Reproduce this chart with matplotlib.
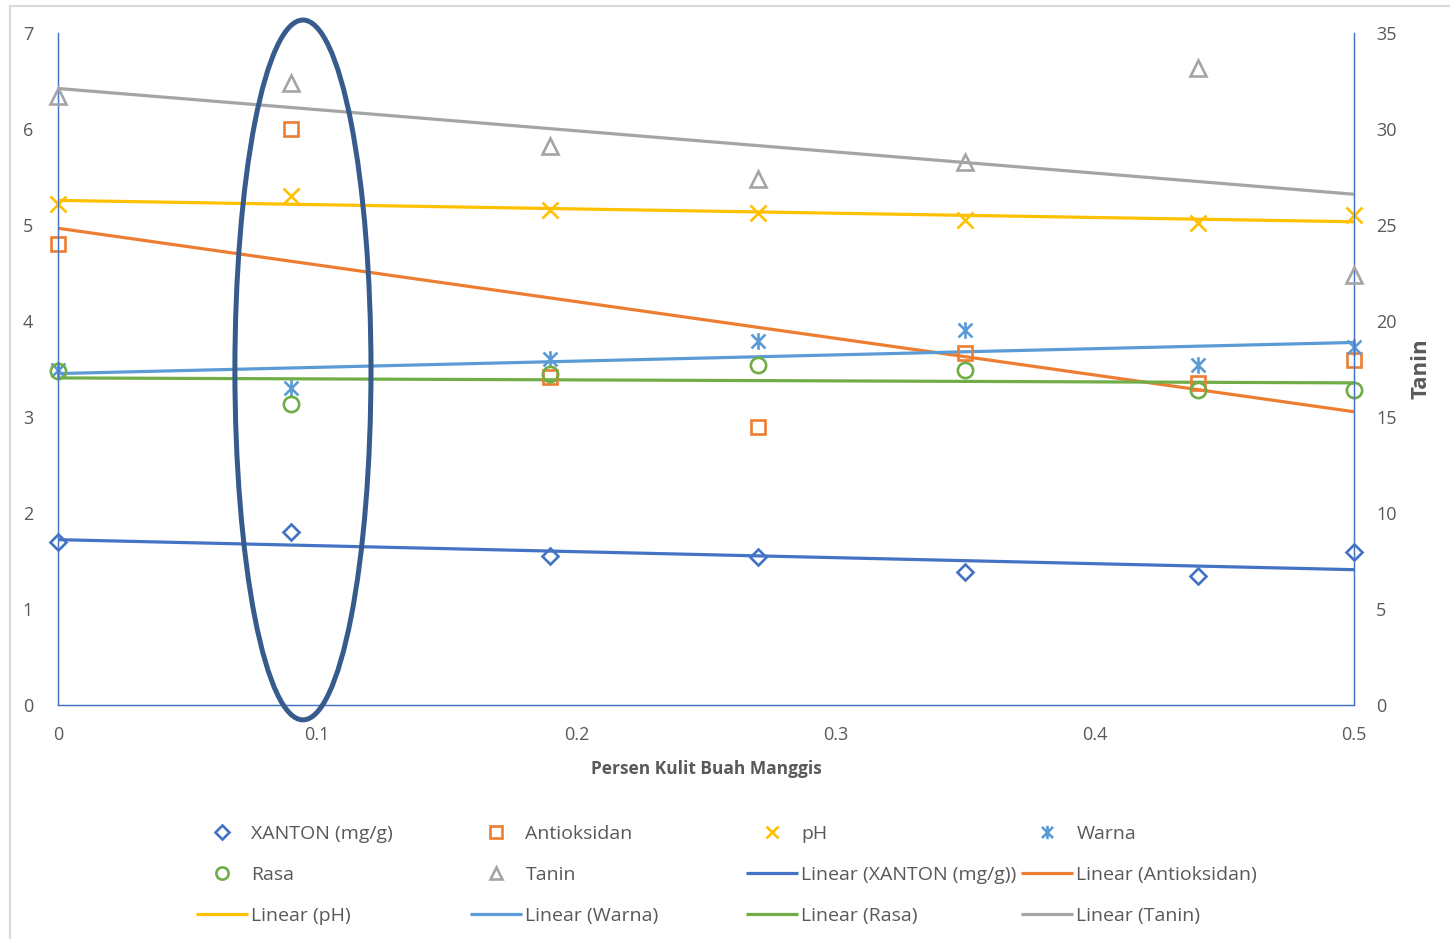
import numpy as np
import matplotlib
matplotlib.use("Agg")
import matplotlib.pyplot as plt
from matplotlib.patches import Ellipse, Rectangle
from matplotlib.path import Path

plt.rcParams['font.family'] = ['Open Sans', 'DejaVu Sans']

# ---- data ----
persen = [0, 0.09, 0.19, 0.27, 0.35, 0.44, 0.5]
xanton = [1.70, 1.80, 1.55, 1.54, 1.385, 1.34, 1.59]
antioksidan = [4.80, 6.00, 3.42, 2.90, 3.67, 3.35, 3.59]
ph = [5.22, 5.30, 5.16, 5.125, 5.05, 5.02, 5.10]
warna = [3.49, 3.30, 3.60, 3.79, 3.91, 3.54, 3.73]
rasa = [3.48, 3.14, 3.45, 3.54, 3.49, 3.28, 3.28]
tanin = [31.7, 32.4, 29.1, 27.4, 28.3, 33.2, 22.4]

left_ticks = [0, 1, 2, 3, 4, 5, 6, 7]
right_ticks = [0, 5, 10, 15, 20, 25, 30, 35]
x_ticks = [0, 0.1, 0.2, 0.3, 0.4, 0.5]
x_ticklabels = ['0', '0.1', '0.2', '0.3', '0.4', '0.5']

C_XAN = '#4472C4'
C_ANT = '#ED7D31'
C_PH = '#FFC000'
C_WAR = '#5B9BD5'
C_RAS = '#70AD47'
C_TAN = '#A5A5A5'
TXT = '#595959'
AXC = '#4472C4'

# Excel-like star marker (x with vertical bar)
star = Path([(-0.5, -0.5), (0.5, 0.5), (-0.5, 0.5), (0.5, -0.5), (0, -0.6), (0, 0.6)],
            [Path.MOVETO, Path.LINETO, Path.MOVETO, Path.LINETO, Path.MOVETO, Path.LINETO])

W, H = 1450, 939
fig = plt.figure(figsize=(W / 100, H / 100), dpi=100)
fig.patches.append(Rectangle((10 / W, -0.1), 1.0, 1.1 - 6 / H, transform=fig.transFigure,
                             fill=False, edgecolor='#D9D9D9', linewidth=1.5))

ax = fig.add_axes([58 / W, 1 - 705 / H, (1354 - 58) / W, (705 - 33) / H])
ax2 = ax.twinx()

x = np.array(persen)
xl = np.array([0, 0.5])
mew = 1.9

series = [
    ('XANTON (mg/g)', xanton, C_XAN, 'D', 8.5, ax),
    ('Antioksidan', antioksidan, C_ANT, 's', 10.5, ax),
    ('pH', ph, C_PH, 'x', 11, ax),
    ('Warna', warna, C_WAR, star, 12, ax),
    ('Rasa', rasa, C_RAS, 'o', 11, ax),
    ('Tanin', tanin, C_TAN, '^', 11, ax2),
]

marker_handles = []
line_handles = []
for name, vals, col, mk, size, a in series:
    y = np.array(vals)
    h, = a.plot(x, y, linestyle='none', marker=mk, markersize=size,
                markerfacecolor='none', markeredgecolor=col, markeredgewidth=mew,
                label=name, zorder=4, clip_on=False)
    marker_handles.append(h)
for name, vals, col, mk, size, a in series:
    y = np.array(vals)
    k, b = np.polyfit(x, y, 1)
    l, = a.plot(xl, k * xl + b, color=col, linewidth=2.3, label=f'Linear ({name})',
                zorder=3, solid_capstyle='butt')
    line_handles.append(l)

ax.set_xlim(0, 0.5)
ax.set_ylim(0, 7)
ax2.set_ylim(0, 35)
ax.set_xticks(x_ticks)
ax.set_xticklabels(x_ticklabels)
ax.set_yticks(left_ticks)
ax2.set_yticks(right_ticks)

for a in (ax, ax2):
    a.tick_params(length=0, labelsize=13, labelcolor=TXT)
    a.spines['top'].set_visible(False)
    for s in ('left', 'right', 'bottom'):
        a.spines[s].set_color(AXC)
        a.spines[s].set_linewidth(0.9)
ax.tick_params(axis='y', pad=18)
ax.tick_params(axis='x', pad=15)
ax2.tick_params(axis='y', pad=16)
ax.patch.set_visible(False)

ax.set_xlabel('Persen Kulit Buah Manggis', fontsize=12.5, fontweight='bold', color=TXT, labelpad=12)
ax2.set_ylabel('Tanin', fontsize=16, fontweight='bold', color=TXT, labelpad=10)

# highlight ellipse
ell = Ellipse((0.0945, 3.49), 0.0525, 7.29, transform=ax.transData, fill=False,
              edgecolor='#375B8C', linewidth=3.6, zorder=10, clip_on=False)
ax2.add_patch(ell)
ax2.set_xlim(0, 0.5)

# legend: 4 columns x 3 rows, row-major order like Excel
items = marker_handles + line_handles
labels = [h.get_label() for h in items]
col_x = [196, 470, 746, 1021]
for c in range(4):
    hs = [items[r * 4 + c] for r in range(3)]
    ls = [labels[r * 4 + c] for r in range(3)]
    fig.legend(hs, ls, loc='upper left', bbox_to_anchor=(col_x[c] / W, 1 - 825 / H),
               frameon=False, fontsize=14, handlelength=2.65, handletextpad=0.2,
               borderpad=0, borderaxespad=0, labelspacing=1.18, labelcolor=TXT,
               markerscale=0.8)

fig.savefig('out.png', dpi=100)
